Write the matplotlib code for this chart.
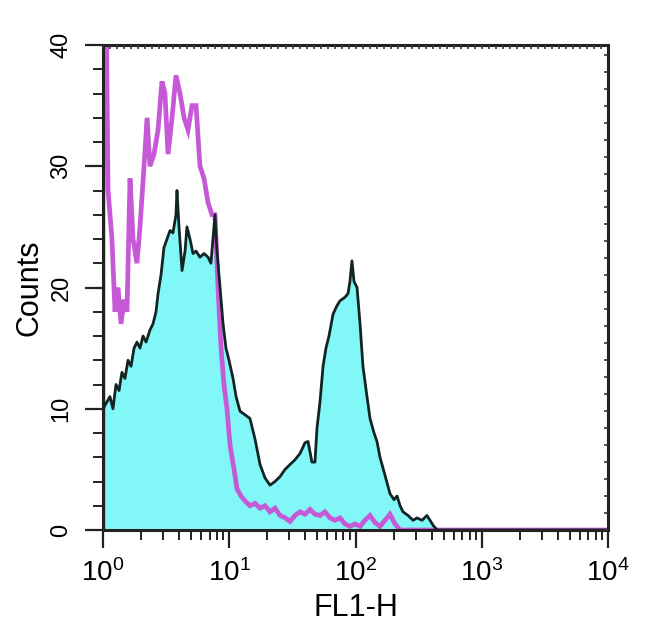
import numpy as np
import matplotlib
matplotlib.use("Agg")
import matplotlib.pyplot as plt
from matplotlib.ticker import FixedLocator, MultipleLocator, NullFormatter

plt.rcParams['font.family'] = ['Liberation Sans', 'DejaVu Sans']
plt.rcParams['mathtext.fontset'] = 'custom'
plt.rcParams['mathtext.rm'] = 'Liberation Sans'

# ---- data: log10(FL1-H) positions and counts ----
# isotype control (purple line)
ctrl_log = [0.000, 0.000, 0.020, 0.040, 0.071, 0.095, 0.119, 0.143, 0.166, 0.190,
            0.214, 0.238, 0.269, 0.293, 0.325, 0.349, 0.372, 0.404, 0.436, 0.467,
            0.491, 0.515, 0.547, 0.578, 0.610, 0.642, 0.673, 0.705, 0.737, 0.768,
            0.800, 0.832, 0.863, 0.887, 0.911, 0.935, 0.958, 0.982, 1.006, 1.038,
            1.061, 1.093, 1.125, 1.164, 1.204, 1.244, 1.283, 1.323, 1.362, 1.402,
            1.442, 1.481, 1.521, 1.560, 1.600, 1.640, 1.679, 1.719, 1.758, 1.798,
            1.838, 1.877, 1.917, 1.956, 1.996, 2.036, 2.075, 2.115, 2.155, 2.194,
            2.234, 2.273, 2.313, 2.353, 4.000]
ctrl_counts = [0, 48, 48, 28, 24, 18, 20, 17, 19, 18,
               29, 24, 22, 25, 30, 34, 30, 31, 33, 37,
               36, 31, 34, 37.5, 36, 34, 33, 35, 35, 30,
               29, 27, 26, 26, 20, 15, 12, 10, 7, 5,
               3.4, 2.8, 2.4, 2.0, 2.2, 1.8, 2.0, 1.5, 1.8, 1.2,
               1.0, 0.7, 1.2, 1.5, 1.3, 1.7, 1.3, 1.2, 1.5, 1.0,
               0.8, 1.0, 0.5, 0.3, 0.5, 0.3, 0.8, 1.2, 0.6, 0.3,
               0.8, 1.3, 0.5, 0.0, 0.0]

# stained sample (cyan filled, black outline)
samp_log = [0.000, 0.055, 0.079, 0.103, 0.127, 0.150, 0.174, 0.198, 0.222, 0.246,
            0.269, 0.293, 0.317, 0.341, 0.372, 0.396, 0.420, 0.436, 0.459, 0.483,
            0.507, 0.531, 0.554, 0.578, 0.586, 0.602, 0.626, 0.650, 0.665, 0.689,
            0.713, 0.737, 0.768, 0.800, 0.832, 0.855, 0.871, 0.887, 0.903, 0.927,
            0.951, 0.974, 0.998, 1.030, 1.054, 1.085, 1.125, 1.164, 1.204, 1.244,
            1.283, 1.323, 1.362, 1.402, 1.442, 1.481, 1.521, 1.560, 1.600, 1.624,
            1.655, 1.679, 1.695, 1.719, 1.743, 1.766, 1.790, 1.822, 1.853, 1.877,
            1.917, 1.941, 1.956, 1.972, 1.988, 2.012, 2.036, 2.059, 2.091, 2.115,
            2.147, 2.170, 2.194, 2.234, 2.273, 2.305, 2.329, 2.353, 2.376, 2.416,
            2.456, 2.487, 2.527, 2.566, 2.590, 2.614, 2.646, 4.000]
samp_counts = [10, 11, 10, 12, 11.5, 13, 12.5, 14, 13.5, 15,
               15.5, 15, 16, 15.5, 16.5, 17, 18, 19.5, 21, 23.3,
               24, 24.7, 24.5, 26, 28, 25, 21.4, 23, 25, 24,
               22.8, 23, 22.5, 22.8, 22.5, 22, 24, 26, 23, 20,
               17, 15, 14, 12.5, 11, 9.8, 9.5, 9.2, 7.5, 5.4,
               4.3, 3.7, 4.0, 4.4, 5.0, 5.4, 5.8, 6.3, 7.2, 7.3,
               5.6, 5.6, 8.4, 10.6, 13.5, 15, 16, 17.8, 18.5, 18.9,
               19.2, 19.5, 20.5, 22.2, 20.5, 20, 17, 13.5, 11, 9.2,
               8, 7.3, 6, 4.5, 3, 2.5, 2.8, 2, 1.5, 1.2,
               0.8, 1.0, 0.8, 1.2, 0.8, 0.4, 0.0, 0.0]

y_ticks = [0, 10, 20, 30, 40]
x_decades = [0, 1, 2, 3, 4]
x_label = "FL1-H"
y_label = "Counts"

# ---- figure ----
fig = plt.figure(figsize=(6.5, 6.31), dpi=100)
ax = fig.add_axes([103/650, 1-530/631, (608-103)/650, (530-45)/631])

xs = 10 ** np.array(samp_log)
xc = 10 ** np.array(ctrl_log)
ax.fill_between(xs, samp_counts, 0, color='#82f7f7', lw=0, zorder=1)
ax.plot(xc, ctrl_counts, color='#c65ad6', lw=3.4, zorder=2, solid_joinstyle='miter')
ax.plot(xs, samp_counts, color='#122424', lw=2.0, zorder=3)

ax.set_xscale('log')
ax.set_xlim(1, 1e4)
ax.set_ylim(0, 40)

ax.set_xticks([10 ** d for d in x_decades])
ax.set_xticklabels([r'$\mathregular{10^{%d}}$' % d for d in x_decades], fontsize=20)
ax.xaxis.set_minor_locator(FixedLocator([m * 10 ** d for d in range(4) for m in range(2, 10)]))
ax.xaxis.set_minor_formatter(NullFormatter())

ax.set_yticks(y_ticks)
ax.set_yticklabels([str(v) for v in y_ticks], fontsize=17, rotation=90, va='center')
ax.yaxis.set_minor_locator(MultipleLocator(2))

ax.tick_params(axis='both', which='major', direction='out', length=13, width=1.6, color='#222222')
ax.tick_params(axis='both', which='minor', direction='out', length=7, width=1.4, color='#222222')
ax.tick_params(axis='x', which='major', pad=8)
ax.tick_params(axis='y', which='major', pad=9)

for s in ax.spines.values():
    s.set_linewidth(2.2)
    s.set_color('#222222')

# inward ticks on top and right
axt = ax.twiny()
axt.set_xlim(0, 4)
axt.xaxis.set_major_locator(MultipleLocator(0.0556))
axt.tick_params(axis='x', which='both', direction='in', length=3, width=1.2, labeltop=False, color='#333333')
axr = ax.twinx()
axr.set_ylim(0, 40)
axr.yaxis.set_major_locator(MultipleLocator(1.4))
axr.tick_params(axis='y', which='both', direction='in', length=3, width=1.2, labelright=False, color='#333333')
for a in (axt, axr):
    for s in a.spines.values():
        s.set_visible(False)

ax.set_xlabel(x_label, fontsize=22, labelpad=4)
ax.set_ylabel(y_label, fontsize=22, labelpad=4)

fig.savefig('out.png', dpi=100)
